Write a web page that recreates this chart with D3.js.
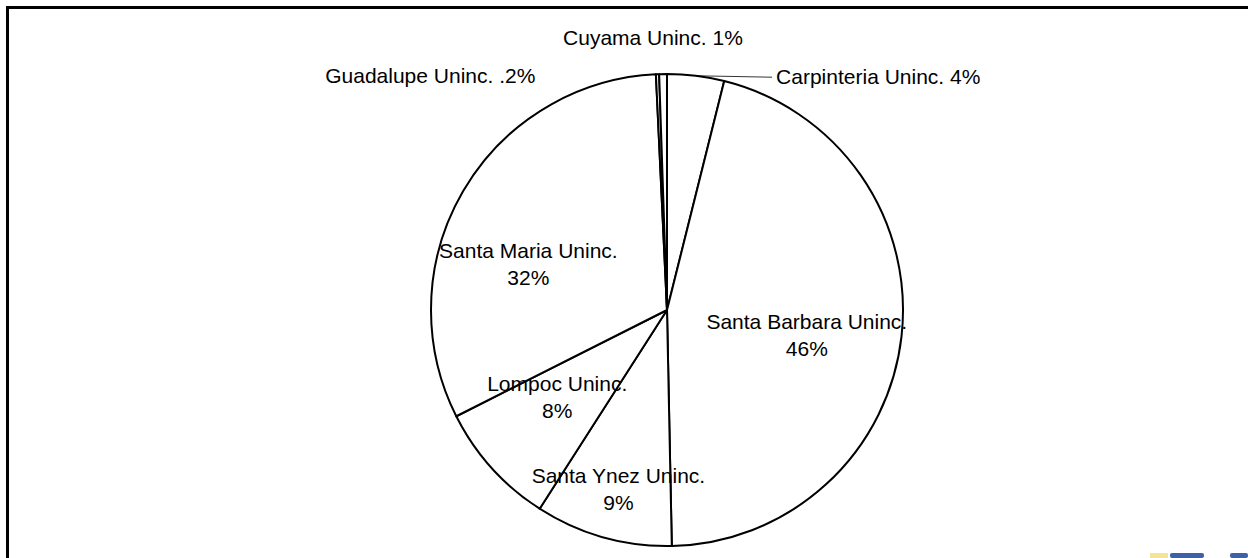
<!DOCTYPE html>
<html>
<head>
<meta charset="utf-8">
<script src="https://cdn.jsdelivr.net/npm/d3@7"></script>
<style>
body { margin: 0; background: #fff; }
#vis1 { width: 1248px; height: 558px; }
text { font-family: "Liberation Sans", Arial, sans-serif; font-size: 21px; fill: #000; }
</style>
</head>
<body>
<div id="vis1"></div>
<script>
// slice order = clockwise from 12 o'clock
var areas = ["Carpinteria Uninc.", "Santa Barbara Uninc.", "Santa Ynez Uninc.", "Lompoc Uninc.",
             "Santa Maria Uninc.", "Guadalupe Uninc.", "Cuyama Uninc."];
var shares = [3.9, 45.8, 9.4, 8.5, 31.7, 0.22, 0.53];
var pctLabels = ["4%", "46%", "9%", "8%", "32%", ".2%", "1%"];

// where the label sits: angle offset from slice middle (deg), distance from centre, inside = two lines
var labelLayout = {
	"Carpinteria Uninc.":   {da: 18, r: 258, inside: false, anchor: "start", leader: true},
	"Santa Barbara Uninc.": {da: 3.6, r: 142, inside: true},
	"Santa Ynez Uninc.":    {da: -0.6, r: 186, inside: true},
	"Lompoc Uninc.":        {da: 3.7, r: 140, inside: true},
	"Santa Maria Uninc.":   {da: -12, r: 146, inside: true},
	"Guadalupe Uninc.":     {da: -27, r: 269, inside: false, anchor: "end"},
	"Cuyama Uninc.":        {da: -2, r: 273, inside: false, anchor: "middle"}
};

gen_vis();

function gen_vis()
{
	var w = 1248, h = 558;
	var cx = 667, cy = 310, radius = 236;

	var svg = d3.select("#vis1")
		.append("svg")
		.attr("width", w)
		.attr("height", h);

	// plot area frame
	svg.append("rect")
		.attr("x", 7.5).attr("y", 7.5)
		.attr("width", w + 20).attr("height", h + 20)
		.attr("fill", "none")
		.attr("stroke", "#000")
		.attr("stroke-width", 3);

	var data = areas.map(function(a, i){ return {name: a, value: shares[i], pct: pctLabels[i]}; });

	var pie = d3.pie().sort(null).value(function(d){ return d.value; });
	var arc = d3.arc().innerRadius(0).outerRadius(radius);
	var arcs = pie(data);

	var g = svg.append("g").attr("transform", "translate(" + cx + "," + cy + ")");

	g.selectAll("path")
		.data(arcs)
		.enter()
		.append("path")
		.attr("d", arc)
		.attr("fill", "#fff")
		.attr("stroke", "#000")
		.attr("stroke-width", 2)
		.attr("stroke-linejoin", "round");

	function polar(angleRad, r){ return [Math.sin(angleRad) * r, -Math.cos(angleRad) * r]; }

	arcs.forEach(function(d){
		var lay = labelLayout[d.data.name];
		var mid = (d.startAngle + d.endAngle) / 2;
		var p = polar(mid + lay.da * Math.PI / 180, lay.r);

		if (lay.inside)
		{
			var t = g.append("text").attr("text-anchor", "middle");
			t.append("tspan").attr("x", p[0]).attr("y", p[1] - 13.5).attr("dy", "0.35em").text(d.data.name);
			t.append("tspan").attr("x", p[0]).attr("y", p[1] + 13.5).attr("dy", "0.35em").text(d.data.pct);
		}
		else
		{
			g.append("text")
				.attr("x", p[0]).attr("y", p[1])
				.attr("dy", "0.35em")
				.attr("text-anchor", lay.anchor)
				.text(d.data.name + " " + d.data.pct);
			if (lay.leader)
			{
				var a0 = polar(mid, radius);
				g.append("line")
					.attr("x1", a0[0]).attr("y1", a0[1])
					.attr("x2", p[0] - 4).attr("y2", p[1] + 1)
					.attr("stroke", "#000")
					.attr("stroke-width", 0.8);
			}
		}
	});

	// bit of the logo peeking in at the bottom right
	var logo = svg.append("g");
	logo.append("rect").attr("x", 1150).attr("y", 553).attr("width", 18).attr("height", 5).attr("fill", "#f2d24a").attr("opacity", 0.6);
	logo.append("rect").attr("x", 1170).attr("y", 553).attr("width", 34).attr("height", 5).attr("rx", 2).attr("fill", "#3f5fa8");
	logo.append("rect").attr("x", 1230).attr("y", 553).attr("width", 18).attr("height", 5).attr("rx", 2).attr("fill", "#3f5fa8");
}
</script>
</body>
</html>
